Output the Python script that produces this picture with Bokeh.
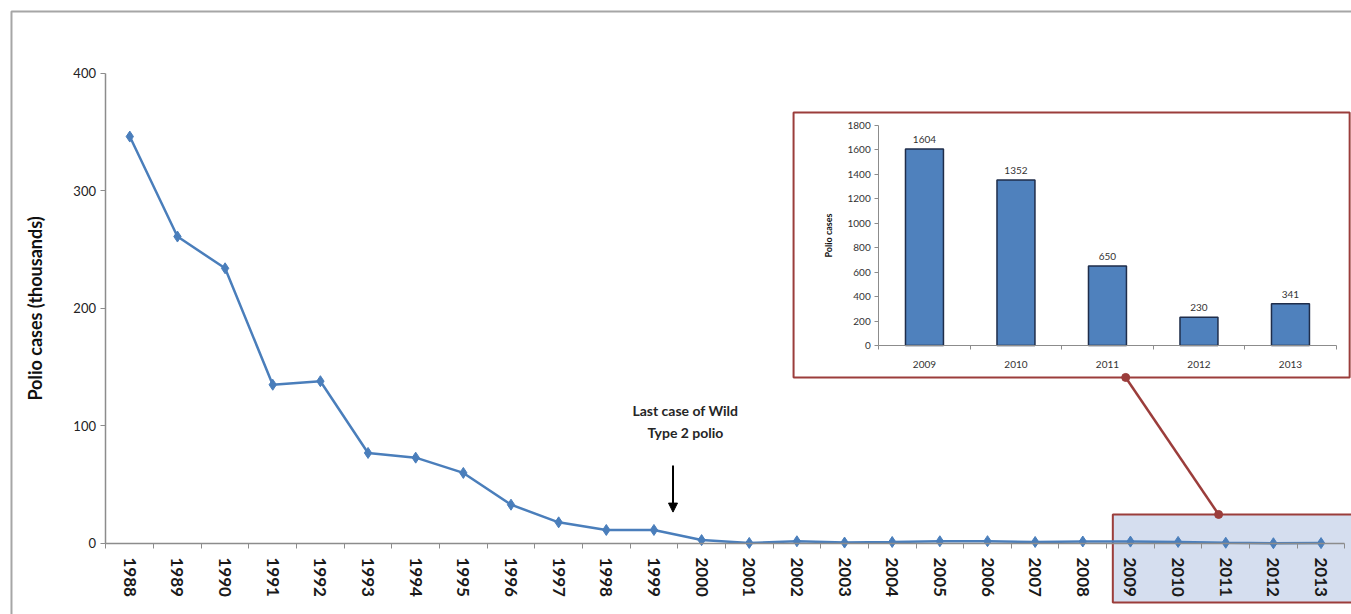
from bokeh.plotting import figure
from bokeh.models import (Range1d, FixedTicker, BoxAnnotation, Arrow, NormalHead,
                          ColumnDataSource, LinearAxis)
from bokeh.core.properties import value
from bokeh.embed import file_html
from bokeh.resources import INLINE

# ---- data -------------------------------------------------------------
years = ["1988", "1989", "1990", "1991", "1992", "1993", "1994", "1995", "1996",
         "1997", "1998", "1999", "2000", "2001", "2002", "2003", "2004", "2005",
         "2006", "2007", "2008", "2009", "2010", "2011", "2012", "2013"]
cases_thousands = [346, 261, 234, 135, 138, 77, 73, 60, 33, 18, 11.5, 11.5, 2.9,
                   0.5, 1.9, 0.8, 1.3, 1.9, 2.0, 1.3, 1.7, 1.6, 1.35, 0.65, 0.23, 0.34]
y_ticks = [0, 100, 200, 300, 400]

inset_years = ["2009", "2010", "2011", "2012", "2013"]
inset_cases = [1604, 1352, 650, 230, 341]
inset_ticks = [0, 200, 400, 600, 800, 1000, 1200, 1400, 1600, 1800]

note_lines = ["Last case of Wild", "Type 2 polio"]

FONT = "Lato"
AXIS_GREY = "#8c8c8c"
LINE_BLUE = "#4A7EBB"
FRAME_RED = "#9B3D3B"

idx = list(range(len(years)))
iidx = list(range(len(inset_years)))

# The frame spans the whole canvas; axes are pinned with fixed_location.
p = figure(width=1351, height=614, output_backend="svg", toolbar_location=None,
           x_range=Range1d(-2.7135, 25.639), y_range=Range1d(-60.37, 461.7),
           x_axis_location=None, y_axis_location=None,
           min_border=0, outline_line_color=None,
           background_fill_color="white", border_fill_color="white")
p.xgrid.visible = False
p.ygrid.visible = False
p.extra_x_ranges = {"ix": Range1d(-10.098, 4.667)}
p.extra_y_ranges = {"iy": Range1d(-2195.8, 2816.3)}

# ---- outer frame and highlighted 2009-2013 zone ---------------------------
p.add_layout(BoxAnnotation(left=-2.483, right=40, top=452.4, bottom=-300,
                           fill_alpha=0, line_color="#a6a6a6", line_alpha=1,
                           line_width=2, level="underlay"))
p.add_layout(BoxAnnotation(left=20.63, right=27, top=24.7, bottom=-50.2,
                           fill_color="#C3D0E8", fill_alpha=0.7,
                           line_color=FRAME_RED, line_alpha=1, line_width=2,
                           level="underlay"))

# ---- inset panel background -------------------------------------------
p.add_layout(BoxAnnotation(left=13.93, right=25.6, top=366.5, bottom=141.2,
                           fill_color="white", fill_alpha=1,
                           line_color=FRAME_RED, line_alpha=1, line_width=2,
                           level="underlay"))

# ---- main x axis: labels centred on years, ticks between them -----------
xa = LinearAxis(fixed_location=0)
xa.ticker = FixedTicker(ticks=idx, minor_ticks=[i - 0.5 for i in range(len(years) + 1)])
xa.major_label_overrides = {i: y for i, y in enumerate(years)}
xa.major_label_orientation = "vertical"
xa.major_tick_line_color = None
xa.major_tick_out = 0
xa.minor_tick_out = 5
xa.minor_tick_in = 0
xa.minor_tick_line_color = AXIS_GREY
xa.axis_line_color = AXIS_GREY
xa.axis_line_width = 1.5
xa.bounds = (-0.5, 25.5)
xa.major_label_standoff = 9
xa.major_label_text_font = FONT
xa.major_label_text_font_style = "bold"
xa.major_label_text_font_size = "17px"
xa.major_label_text_color = "#1a1a1a"
p.add_layout(xa, "below")

# ---- main y axis --------------------------------------------------------
ya = LinearAxis(fixed_location=-0.5)
ya.ticker = FixedTicker(ticks=y_ticks, minor_ticks=[])
ya.bounds = (0, 400)
ya.major_tick_out = 5
ya.major_tick_in = 0
ya.major_tick_line_color = AXIS_GREY
ya.axis_line_color = AXIS_GREY
ya.axis_line_width = 1.5
ya.major_label_text_font = FONT
ya.major_label_text_font_size = "13px"
ya.major_label_text_color = "#222222"
ya.major_label_standoff = 5
ya.axis_label = "Polio cases (thousands)"
ya.axis_label_text_font = FONT
ya.axis_label_text_font_style = "bold"
ya.axis_label_text_font_size = "18px"
ya.axis_label_text_color = "#111111"
ya.axis_label_standoff = 24
p.add_layout(ya, "left")

# ---- main series -------------------------------------------------------
src = ColumnDataSource(dict(x=idx, y=cases_thousands))
p.line("x", "y", source=src, line_color=LINE_BLUE, line_width=2.5)
p.scatter("x", "y", source=src, marker="diamond", size=11,
          fill_color=LINE_BLUE, line_color=LINE_BLUE)

# ---- connector between zone and inset ---------------------------------
p.segment(x0=[20.90], y0=[141.2], x1=[22.85], y1=[24.7],
          line_color=FRAME_RED, line_width=2.5)
p.scatter(x=[20.90, 22.85], y=[141.2, 24.7], size=8,
          fill_color=FRAME_RED, line_color=FRAME_RED)

# ---- note with arrow --------------------------------------------------
p.text(x=[11.66, 11.66], y=[113.0, 94.5], text=note_lines,
       text_align="center", text_baseline="middle",
       text_font=value(FONT), text_font_size="14px", text_font_style="bold",
       text_color="#262626")
p.add_layout(Arrow(x_start=11.40, y_start=66.3, x_end=11.40, y_end=26.7,
                   line_color="black", line_width=2,
                   end=NormalHead(size=9, fill_color="black", line_color="black")))

# ---- inset bar chart (own ranges) --------------------------------------
kw = dict(x_range_name="ix", y_range_name="iy")
p.vbar(x=iidx, top=inset_cases, width=0.415, fill_color="#4F81BD",
       line_color="#1F2D4A", line_width=1.5, **kw)
p.text(x=iidx, y=inset_cases, text=[str(v) for v in inset_cases], y_offset=-6,
       text_align="center", text_baseline="bottom", text_font=value(FONT),
       text_font_size="10px", text_color="#333333", **kw)

iya = LinearAxis(fixed_location=-0.5, **kw)
iya.ticker = FixedTicker(ticks=inset_ticks, minor_ticks=[])
iya.bounds = (0, inset_ticks[-1])
iya.major_tick_out = 4
iya.major_tick_in = 0
iya.major_tick_line_color = AXIS_GREY
iya.axis_line_color = AXIS_GREY
iya.major_label_text_font = FONT
iya.major_label_text_font_size = "10px"
iya.major_label_text_color = "#333333"
iya.major_label_standoff = 4
iya.axis_label = "Polio cases"
iya.axis_label_text_font = FONT
iya.axis_label_text_font_style = "bold"
iya.axis_label_text_font_size = "9px"
iya.axis_label_text_color = "#111111"
iya.axis_label_standoff = 10
p.add_layout(iya, "left")

ixa = LinearAxis(fixed_location=0, **kw)
ixa.ticker = FixedTicker(ticks=iidx, minor_ticks=[i - 0.5 for i in range(len(inset_years) + 1)])
ixa.major_label_overrides = {i: y for i, y in enumerate(inset_years)}
ixa.bounds = (-0.5, len(inset_years) - 0.5)
ixa.major_tick_line_color = None
ixa.major_tick_out = 0
ixa.minor_tick_out = 4
ixa.minor_tick_in = 0
ixa.minor_tick_line_color = AXIS_GREY
ixa.axis_line_color = AXIS_GREY
ixa.major_label_text_font = FONT
ixa.major_label_text_font_size = "10px"
ixa.major_label_text_color = "#333333"
ixa.major_label_standoff = 11
p.add_layout(ixa, "below")

open("out.html", "w").write(file_html(p, INLINE))
